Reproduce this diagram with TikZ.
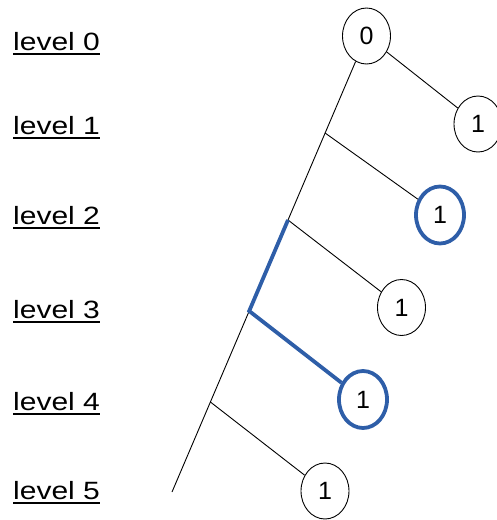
\documentclass[tikz,border=0pt]{standalone}
\usepackage{fontspec}
\setmainfont{Liberation Sans}
\usetikzlibrary{shapes.geometric,calc}
\definecolor{hiblue}{RGB}{46,94,168}
\begin{document}
\begin{tikzpicture}[x=1pt,y=-1pt,
  lvl/.style={anchor=base west,inner sep=0pt,font=\fontsize{25}{28}\selectfont},
  uline/.style={line width=2pt},
  tnode/.style={ellipse,draw=black,line width=0.9pt,minimum width=48pt,minimum height=56pt,inner sep=0pt,font=\fontsize{25}{28}\selectfont},
  bnode/.style={tnode,draw=hiblue,line width=3.8pt,minimum width=48pt,minimum height=57pt},
  edge/.style={draw=black,line width=0.9pt},
  hedge/.style={draw=hiblue,line width=3.8pt,line join=miter}]
\useasboundingbox (0,0) rectangle (496,520);
% level labels
\foreach \i/\b in {0/50,1/134,2/224,3/318,4/410,5/499}{
  \node[lvl] (l\i) at (13,\b) {\scalebox{1.2}[1]{level \i}};
  \draw[uline] ($(l\i.base west)+(0,3.5)$) -- ($(l\i.base east)+(0,3.5)$);
}
% tree nodes
\node[tnode] (n0) at (366.5,36) {0};
\node[tnode] (n1) at (478,124) {1};
\node[bnode] (n2) at (440,215) {1};
\node[tnode] (n3) at (401.5,307.5) {1};
\node[bnode] (n4) at (363,399.5) {1};
\node[tnode] (n5) at (325,491) {1};
% spine
\coordinate (bot) at (172,492);
\coordinate (j1) at (325.1,133);
\coordinate (j2) at (288.0,220);
\coordinate (j3) at (249.2,311);
\coordinate (j4) at (210.4,402);
\draw[edge] (n0) -- (bot);
\draw[edge] (n0) -- (n1);
\draw[edge] (j1) -- (n2);
\draw[edge] (j2) -- (n3);
\draw[edge] (j4) -- (n5);
\draw[hedge] (j2) -- (j3) -- (n4);
\end{tikzpicture}
\end{document}
